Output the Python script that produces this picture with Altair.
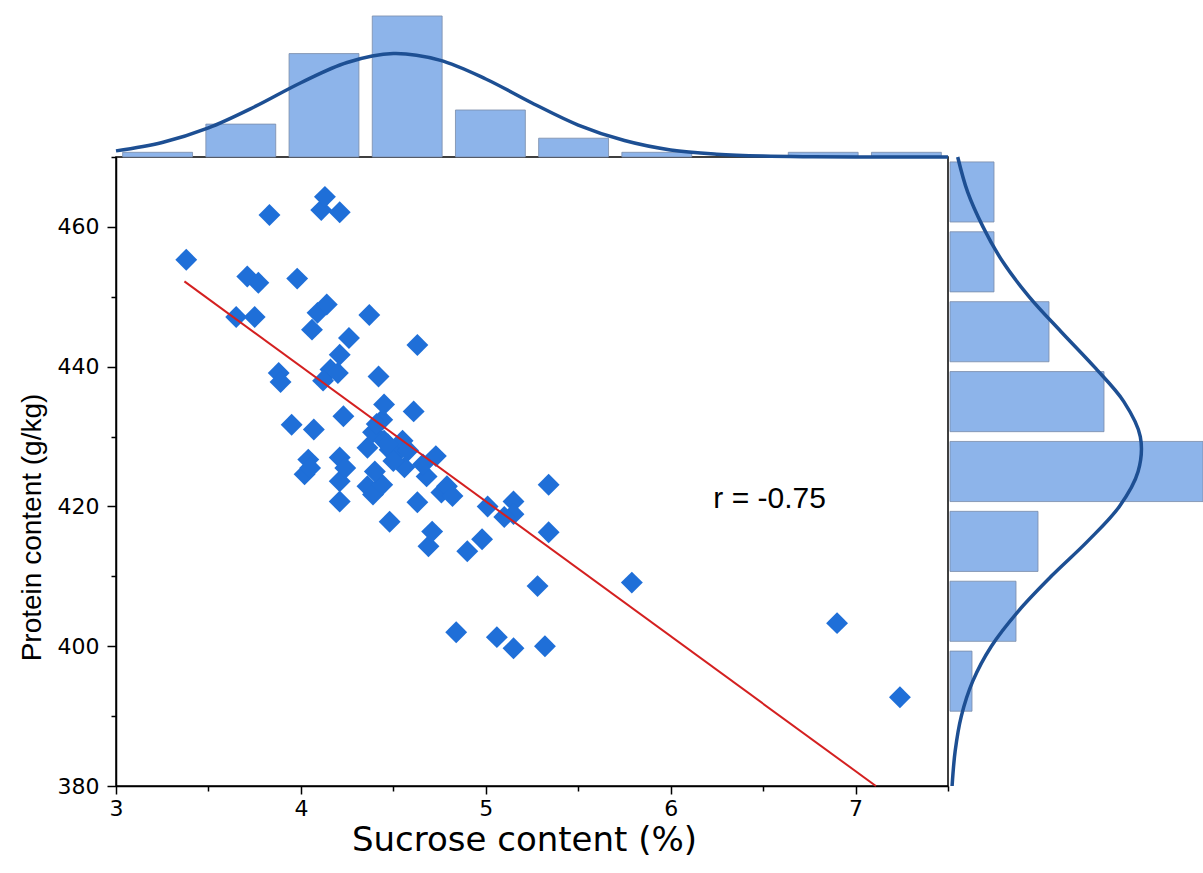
import altair as alt
import pandas as pd

# ---------------- data ----------------
sucrose = [3.38, 3.65, 3.71, 3.75, 3.77, 3.83, 3.88, 3.95, 3.98, 4.02,
           4.04, 4.06, 4.07, 4.09, 4.11, 4.13, 4.14, 4.16, 4.20, 4.21,
           4.21, 4.21, 4.21, 4.21, 4.23, 4.26, 4.36, 4.36, 4.37, 4.39,
           4.39, 4.42, 4.44, 4.45, 4.44, 4.48, 4.48, 4.52, 4.55, 4.56,
           4.61, 4.63, 4.63, 4.68, 4.69, 4.71, 4.73, 4.76, 4.79, 4.84,
           4.90, 4.98, 5.01, 5.06, 5.15, 5.15, 5.15, 5.28, 5.32, 5.34,
           5.34, 5.79, 6.90, 7.24, 4.45,
           3.89, 4.12, 4.05, 4.24, 4.41, 4.47, 4.50, 4.58, 4.66, 4.40,
           4.82, 5.10]
protein = [455.3, 447.1, 452.9, 447.1, 452.0, 461.7, 439.1, 431.7, 452.6, 424.6,
           426.7, 445.3, 431.0, 447.7, 462.4, 464.3, 448.9, 439.6, 439.1, 441.7,
           462.1, 427.0, 423.6, 420.7, 432.9, 444.1, 428.4, 422.9, 447.4, 430.6,
           421.7, 438.6, 432.4, 434.6, 423.1, 428.1, 417.8, 427.7, 429.4, 425.6,
           433.6, 443.1, 420.6, 424.3, 414.3, 416.4, 427.2, 422.0, 422.9, 402.0,
           413.6, 415.3, 420.0, 401.3, 420.7, 418.9, 399.7, 408.6, 400.0, 423.1,
           416.3, 409.1, 403.3, 392.7, 429.4,
           437.8, 438.0, 425.5, 425.5, 431.8, 428.9, 426.5, 428.0, 426.0, 425.0,
           421.5, 418.5]

fit_sucrose = [3.37, 7.11]
fit_protein = [452.2, 380.0]

top_bin_start = [3.0, 3.45, 3.9, 4.35, 4.8, 5.25, 5.7, 6.15, 6.6, 7.05]
top_bin_end = [3.45, 3.9, 4.35, 4.8, 5.25, 5.7, 6.15, 6.6, 7.05, 7.5]
top_counts = [1, 7, 22, 30, 10, 4, 1, 0, 1, 1]

right_bin_start = [460, 450, 440, 430, 420, 410, 400, 390]
right_bin_end = [470, 460, 450, 440, 430, 420, 410, 400]
right_counts = [4, 4, 9, 14, 30, 8, 6, 2]

top_curve_x = [3.0, 3.25, 3.5, 3.75, 4.0, 4.25, 4.5, 4.75, 5.0, 5.25,
               5.5, 5.75, 6.0, 6.25, 6.5, 6.75, 7.0, 7.25, 7.5]
top_curve_y = [1.3, 3.1, 6.2, 10.7, 15.8, 20.1, 22.0, 20.6, 16.6, 11.5,
               6.8, 3.5, 1.5, 0.6, 0.19, 0.05, 0.01, 0.0, 0.0]

right_curve_protein = [380, 385, 390, 395, 400, 405, 410, 415, 420, 425,
                       430, 435, 440, 445, 450, 455, 460, 465, 470]
right_curve_count = [0.19, 0.47, 1.03, 2.07, 3.76, 6.2, 9.2, 12.5, 15.4, 17.1,
                     17.3, 15.8, 13.1, 10.1, 7.2, 4.8, 3.0, 1.6, 0.7]

r_label = ["r = -0.75"]
r_x = [6.535]
r_y = [421.0]

x_tick_values = [3, 3.5, 4, 4.5, 5, 5.5, 6, 6.5, 7, 7.5]
y_tick_values = [380, 390, 400, 410, 420, 430, 440, 450, 460, 470]

# ---------------- tables ----------------
scatter_df = pd.DataFrame({"sucrose": sucrose, "protein": protein})
fit_df = pd.DataFrame({"sucrose": fit_sucrose, "protein": fit_protein})
top_df = pd.DataFrame({"start": top_bin_start, "end": top_bin_end, "count": top_counts})
right_df = pd.DataFrame({"start": right_bin_start, "end": right_bin_end, "count": right_counts})
top_curve_df = pd.DataFrame({"cx": top_curve_x, "cy": top_curve_y})
right_curve_df = pd.DataFrame({"cy": right_curve_protein, "cx": right_curve_count})
text_df = pd.DataFrame({"label": r_label, "x": r_x, "y": r_y})

FONT = "DejaVu Sans"
BAR_FILL = "#8DB4EA"
BAR_STROKE = "#7A8CA8"
CURVE = "#1D4F93"
POINT = "#1F6FD8"

X_SCALE = alt.Scale(domain=[3, 7.5], nice=False, zero=False)
Y_SCALE = alt.Scale(domain=[380, 470], nice=False, zero=False)
Y_TOP = alt.Scale(domain=[0, 33.4], range=[0, -157], nice=False, zero=False)
X_RIGHT = alt.Scale(domain=[0, 23], range=[834, 1087], nice=False, zero=False, clamp=True)

x_axis = alt.Axis(
    values=x_tick_values,
    labelExpr="datum.value % 1 === 0 ? '' + datum.value : ''",
    tickSize={"condition": {"test": "datum.value % 1 === 0", "value": 8}, "value": 5},
    title="Sucrose content (%)",
    titleFont=FONT, titleFontSize=34, titleFontWeight="normal", titleColor="black",
    titleX=408, titleY=37, titleBaseline="top",
    labelFont=FONT, labelFontSize=22, labelColor="black", labelPadding=4,
    labelFlush=False, labelOverlap=False,
    domainColor="black", domainWidth=1.5, tickColor="black", tickWidth=1.5,
    grid=False,
)
y_axis = alt.Axis(
    values=y_tick_values,
    labelExpr="datum.value % 20 === 0 ? '' + datum.value : ''",
    tickSize={"condition": {"test": "datum.value % 20 === 0", "value": 9}, "value": 5},
    title="Protein content (g/kg)",
    titleFont="Liberation Sans", titleFontSize=28, titleFontWeight="normal", titleColor="black",
    titleX=-70, titleY=370, titleBaseline="bottom",
    labelFont=FONT, labelFontSize=22, labelColor="black", labelPadding=8,
    labelFlush=False, labelOverlap=False,
    domainColor="black", domainWidth=1.5, tickColor="black", tickWidth=1.5,
    grid=False,
)

top_bars = alt.Chart(top_df).transform_filter("datum.count > 0").transform_calculate(
    lo="datum.start + 0.036", hi="datum.end - 0.036"
).mark_rect(fill=BAR_FILL, stroke=BAR_STROKE, strokeWidth=0.8).encode(
    x=alt.X("lo:Q", scale=X_SCALE, axis=None),
    x2="hi:Q",
    y=alt.Y("count:Q", scale=Y_TOP, axis=None),
    y2=alt.datum(0),
)

top_curve = alt.Chart(top_curve_df).mark_line(
    color=CURVE, strokeWidth=3.5, interpolate="catmull-rom"
).encode(
    x=alt.X("cx:Q", scale=X_SCALE, axis=None),
    y=alt.Y("cy:Q", scale=Y_TOP, axis=None),
)

right_bars = alt.Chart(right_df).transform_calculate(
    lo="datum.start + 0.7", hi="datum.end - 0.7"
).mark_rect(fill=BAR_FILL, stroke=BAR_STROKE, strokeWidth=0.8).encode(
    y=alt.Y("lo:Q", scale=Y_SCALE, axis=None),
    y2="hi:Q",
    x=alt.X("count:Q", scale=X_RIGHT, axis=None),
    x2=alt.datum(0),
)

right_curve = alt.Chart(right_curve_df).mark_line(
    color=CURVE, strokeWidth=3.5, interpolate="catmull-rom"
).encode(
    x=alt.X("cx:Q", scale=X_RIGHT, axis=None),
    y=alt.Y("cy:Q", scale=Y_SCALE, axis=None),
    order=alt.Order("cy:Q"),
)

points = alt.Chart(scatter_df).mark_point(
    shape="diamond", filled=True, size=480, color=POINT, opacity=1, strokeWidth=0
).encode(
    x=alt.X("sucrose:Q", scale=X_SCALE, axis=x_axis),
    y=alt.Y("protein:Q", scale=Y_SCALE, axis=y_axis),
)

fit = alt.Chart(fit_df).mark_line(color="#D42020", strokeWidth=2).encode(
    x=alt.X("sucrose:Q", scale=X_SCALE, axis=None),
    y=alt.Y("protein:Q", scale=Y_SCALE, axis=None),
)

txt = alt.Chart(text_df).mark_text(
    font="Liberation Sans", fontSize=30, color="black", align="center", baseline="middle"
).encode(
    x=alt.X("x:Q", scale=X_SCALE, axis=None),
    y=alt.Y("y:Q", scale=Y_SCALE, axis=None),
    text="label:N",
)

chart = alt.layer(
    top_bars, top_curve, right_bars, right_curve, points, fit, txt
).resolve_scale(
    x="independent", y="independent"
).properties(
    width=832, height=629,
    autosize=alt.AutoSizeParams(type="none"),
    padding={"left": 116, "top": 157, "right": 255, "bottom": 87},
    background="white",
).configure_view(stroke="black", strokeWidth=1.5)

chart.save("out.html", embed_options={"renderer": "svg", "actions": False})
